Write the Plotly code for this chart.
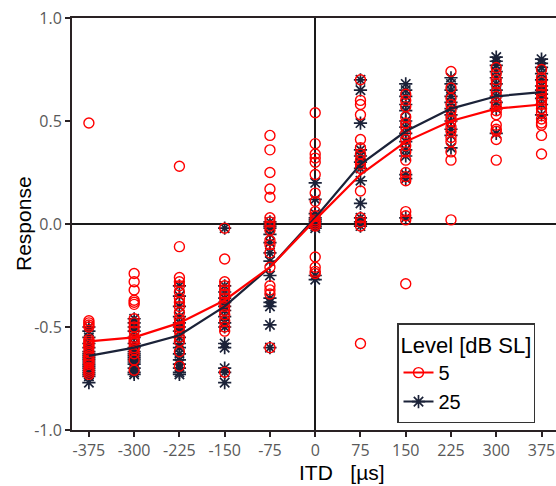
import plotly.graph_objects as go

itd = [-375, -300, -225, -150, -75, 0, 75, 150, 225, 300, 375]
tick_text = ["-375", "-300", "-225", "-150", "-75", "0", "75", "150", "225", "300", "375"]
y_ticks = [-1.0, -0.5, 0.0, 0.5, 1.0]
y_tick_text = ["-1.0", "-0.5", "0.0", "0.5", "1.0"]

# Individual responses, 5 dB SL
resp5 = {
    -375: [0.49, -0.47, -0.48, -0.49, -0.50, -0.56, -0.57, -0.58, -0.59, -0.60, -0.62, -0.64, -0.65, -0.66, -0.67, -0.68, -0.70, -0.71, -0.72, -0.73],
    -300: [-0.24, -0.28, -0.32, -0.37, -0.38, -0.39, -0.46, -0.48, -0.50, -0.52, -0.55, -0.56, -0.57, -0.58, -0.60, -0.61, -0.63, -0.66, -0.71],
    -225: [0.28, -0.11, -0.26, -0.28, -0.30, -0.33, -0.36, -0.38, -0.40, -0.43, -0.46, -0.48, -0.50, -0.52, -0.55, -0.57, -0.62, -0.69],
    -150: [-0.02, -0.17, -0.28, -0.30, -0.32, -0.34, -0.36, -0.38, -0.40, -0.42, -0.44, -0.47, -0.50, -0.52, -0.72],
    -75: [0.43, 0.36, 0.25, 0.17, 0.13, 0.03, 0.01, -0.01, -0.03, -0.08, -0.10, -0.14, -0.21, -0.30, -0.32, -0.34, -0.60],
    0: [0.54, 0.39, 0.34, 0.32, 0.30, 0.24, 0.15, 0.11, 0.06, 0.04, 0.02, 0.01, 0.0, -0.01, -0.16, -0.21, -0.23, -0.24],
    75: [0.70, 0.60, 0.58, 0.53, 0.41, 0.37, 0.34, 0.31, 0.29, 0.27, 0.16, 0.03, 0.01, -0.01, -0.58],
    150: [0.63, 0.60, 0.57, 0.52, 0.49, 0.47, 0.44, 0.41, 0.38, 0.35, 0.31, 0.25, 0.23, 0.21, 0.06, 0.04, 0.02, -0.29],
    225: [0.74, 0.66, 0.61, 0.58, 0.55, 0.52, 0.50, 0.47, 0.45, 0.42, 0.40, 0.35, 0.31, 0.02],
    300: [0.76, 0.73, 0.70, 0.68, 0.64, 0.62, 0.59, 0.57, 0.55, 0.53, 0.48, 0.46, 0.45, 0.41, 0.31],
    375: [0.75, 0.71, 0.69, 0.67, 0.65, 0.63, 0.61, 0.60, 0.58, 0.56, 0.54, 0.51, 0.49, 0.48, 0.43, 0.34],
}

# Individual responses, 25 dB SL
resp25 = {
    -375: [-0.50, -0.52, -0.55, -0.58, -0.60, -0.62, -0.63, -0.64, -0.65, -0.66, -0.67, -0.68, -0.69, -0.70, -0.71, -0.72, -0.73, -0.74, -0.77],
    -300: [-0.46, -0.48, -0.50, -0.52, -0.55, -0.58, -0.60, -0.62, -0.63, -0.64, -0.65, -0.66, -0.67, -0.68, -0.70, -0.72, -0.73],
    -225: [-0.30, -0.35, -0.40, -0.45, -0.48, -0.50, -0.52, -0.55, -0.58, -0.60, -0.63, -0.66, -0.68, -0.70, -0.72, -0.73],
    -150: [-0.02, -0.30, -0.33, -0.36, -0.38, -0.40, -0.42, -0.45, -0.48, -0.50, -0.58, -0.60, -0.70, -0.72, -0.77],
    -75: [0.01, -0.01, -0.02, -0.05, -0.09, -0.14, -0.18, -0.25, -0.36, -0.38, -0.40, -0.49, -0.60],
    0: [0.20, 0.12, 0.05, 0.03, 0.02, 0.01, 0.0, -0.01, -0.02, -0.25, -0.27],
    75: [0.70, 0.65, 0.49, 0.36, 0.33, 0.30, 0.27, 0.21, 0.10, 0.03, 0.01, -0.01],
    150: [0.68, 0.65, 0.62, 0.58, 0.55, 0.50, 0.47, 0.44, 0.40, 0.36, 0.33, 0.24, 0.22, 0.03],
    225: [0.71, 0.68, 0.65, 0.62, 0.59, 0.56, 0.53, 0.50, 0.46, 0.43, 0.37],
    300: [0.81, 0.79, 0.77, 0.74, 0.71, 0.68, 0.65, 0.62, 0.59, 0.56, 0.44],
    375: [0.80, 0.78, 0.76, 0.73, 0.70, 0.67, 0.65, 0.63, 0.61, 0.58, 0.53],
}

# Mean curves
mean5 = [-0.57, -0.55, -0.48, -0.37, -0.21, 0.02, 0.24, 0.40, 0.50, 0.56, 0.58]
mean25 = [-0.64, -0.60, -0.54, -0.40, -0.21, 0.03, 0.29, 0.45, 0.56, 0.62, 0.64]

RED = "#ff0000"
NAVY = "#1b2238"

def flat(d):
    xs, ys = [], []
    for k in itd:
        for v in d[k]:
            xs.append(k)
            ys.append(v)
    return xs, ys

x25, y25 = flat(resp25)
x5, y5 = flat(resp5)

star = dict(symbol="asterisk-open", size=11, color=NAVY, line=dict(color=NAVY, width=1.7))
circ = dict(symbol="circle-open", size=10, color=RED, line=dict(color=RED, width=1.4))

fig = go.Figure()
fig.add_trace(go.Scatter(x=x25, y=y25, mode="markers", showlegend=False, marker=star))
fig.add_trace(go.Scatter(x=x5, y=y5, mode="markers", showlegend=False, marker=circ))
fig.add_trace(go.Scatter(x=itd, y=mean25, mode="lines", showlegend=False,
                         line=dict(color=NAVY, width=2.2)))
fig.add_trace(go.Scatter(x=itd, y=mean5, mode="lines", showlegend=False,
                         line=dict(color=RED, width=2.2)))
# legend entries
fig.add_trace(go.Scatter(x=[None], y=[None], mode="lines+markers", name="5",
                         line=dict(color=RED, width=2), marker=circ))
fig.add_trace(go.Scatter(x=[None], y=[None], mode="lines+markers", name="25",
                         line=dict(color=NAVY, width=2), marker=star))

AXC = "#2a2224"
TICKF = dict(family="Open Sans, Noto Sans, sans-serif", size=16, color="#595959")
fig.update_layout(
    width=556, height=486,
    margin=dict(l=72, r=0, t=18, b=56),
    paper_bgcolor="white", plot_bgcolor="white",
    font=dict(family="Liberation Sans, Arial, sans-serif", color="black"),
    legend=dict(
        title=dict(text="Level [dB SL]", font=dict(size=22, color="black")),
        font=dict(size=20, color="black"),
        x=(397 - 72) / 484, y=(430 - 323) / 412, xanchor="left", yanchor="top",
        bordercolor="#333333", borderwidth=1.5, bgcolor="white",
        tracegroupgap=0, itemwidth=30,
    ),
    xaxis=dict(
        range=[-403, 399], tickmode="array", tickvals=itd, ticktext=tick_text,
        automargin=False,
        showgrid=False, zeroline=True, zerolinecolor="#1a1a1a", zerolinewidth=2,
        showline=True, linecolor=AXC, linewidth=2, mirror=True,
        ticks="outside", ticklen=5, tickwidth=1.5, tickcolor=AXC,
        tickfont=TICKF,
    ),
    yaxis=dict(
        range=[-1, 1], tickmode="array", tickvals=y_ticks, ticktext=y_tick_text,
        automargin=False,
        showgrid=False, zeroline=True, zerolinecolor="#1a1a1a", zerolinewidth=2,
        showline=True, linecolor=AXC, linewidth=2,
        ticks="outside", ticklen=5, tickwidth=1.5, tickcolor=AXC,
        tickfont=TICKF,
    ),
    annotations=[
        dict(text="ITD   [µs]", xref="paper", yref="paper",
             x=(342 - 72) / 484, y=-(472 - 430) / 412, xanchor="center", yanchor="middle",
             showarrow=False, font=dict(size=21, color="black")),
        dict(text="Response", xref="paper", yref="paper", textangle=-90,
             x=(23 - 72) / 484, y=0.5, xanchor="center", yanchor="middle",
             showarrow=False, font=dict(size=21, color="black")),
    ],
)

fig.write_html("out.html", config={"displayModeBar": False},
               post_script="document.body.style.margin='0';document.body.style.padding='0';")
